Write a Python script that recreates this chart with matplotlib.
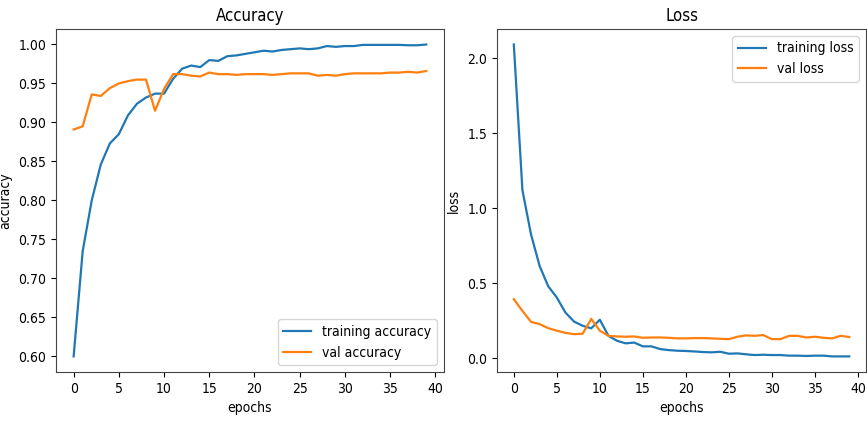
import matplotlib
matplotlib.use("Agg")
from matplotlib import pyplot as plt
from matplotlib.ticker import MultipleLocator

# data
epochs = list(range(40))
train_acc = [0.600, 0.735, 0.800, 0.846, 0.873, 0.885, 0.909, 0.924, 0.932, 0.937,
             0.937, 0.956, 0.969, 0.973, 0.971, 0.980, 0.979, 0.985, 0.986, 0.988,
             0.990, 0.992, 0.991, 0.993, 0.994, 0.995, 0.994, 0.995, 0.998, 0.997,
             0.998, 0.998, 0.9995, 0.9995, 0.9995, 0.9995, 0.9995, 0.999, 0.999, 1.000]
val_acc = [0.891, 0.895, 0.936, 0.934, 0.944, 0.950, 0.953, 0.955, 0.955, 0.915,
           0.943, 0.962, 0.962, 0.960, 0.959, 0.964, 0.962, 0.962, 0.961, 0.962,
           0.962, 0.962, 0.961, 0.962, 0.963, 0.963, 0.963, 0.960, 0.961, 0.960,
           0.962, 0.963, 0.963, 0.963, 0.963, 0.964, 0.964, 0.965, 0.964, 0.966]
train_loss = [2.09, 1.12, 0.825, 0.615, 0.480, 0.405, 0.305, 0.245, 0.217, 0.200,
              0.257, 0.150, 0.117, 0.100, 0.105, 0.080, 0.080, 0.062, 0.055, 0.051,
              0.049, 0.046, 0.042, 0.040, 0.044, 0.031, 0.033, 0.027, 0.022, 0.024,
              0.022, 0.022, 0.018, 0.018, 0.016, 0.018, 0.018, 0.013, 0.013, 0.013]
val_loss = [0.394, 0.316, 0.243, 0.228, 0.201, 0.184, 0.170, 0.161, 0.164, 0.263,
            0.184, 0.150, 0.146, 0.144, 0.146, 0.137, 0.139, 0.139, 0.137, 0.133,
            0.133, 0.135, 0.135, 0.133, 0.130, 0.128, 0.144, 0.153, 0.150, 0.155,
            0.128, 0.128, 0.150, 0.150, 0.139, 0.144, 0.137, 0.133, 0.150, 0.142]

plt.rcParams['font.family'] = ['DejaVu Sans']
plt.rcParams['font.stretch'] = 'condensed'

fig = plt.figure(figsize=(8.67, 4.25), dpi=100)
ax1 = fig.add_axes([0.0646, 0.1247, 0.4474, 0.8073])
ax2 = fig.add_axes([0.5733, 0.1247, 0.4256, 0.8073])

ax1.plot(epochs, train_acc, label='training accuracy', lw=1.6)
ax1.plot(epochs, val_acc, label='val accuracy', lw=1.6)
ax1.set_title('Accuracy', fontsize=12)
ax1.set_xlabel('epochs', fontsize=10)
ax1.set_ylabel('accuracy', fontsize=10)
ax1.yaxis.set_label_coords(-0.112, 0.5)
ax1.legend(loc='lower right', fontsize=10)

ax2.plot(epochs, train_loss, label='training loss', lw=1.6)
ax2.plot(epochs, val_loss, label='val loss', lw=1.6)
ax2.set_title('Loss', fontsize=12)
ax2.set_xlabel('epochs', fontsize=10)
ax2.set_ylabel('loss', fontsize=10)
ax2.yaxis.set_label_coords(-0.098, 0.5)
ax2.legend(loc='upper right', fontsize=10)

for ax in (ax1, ax2):
    ax.xaxis.set_major_locator(MultipleLocator(5))
    ax.tick_params(labelsize=10)
    for s in ax.spines.values():
        s.set_color('#444444')

fig.savefig('out.png', dpi=100)
